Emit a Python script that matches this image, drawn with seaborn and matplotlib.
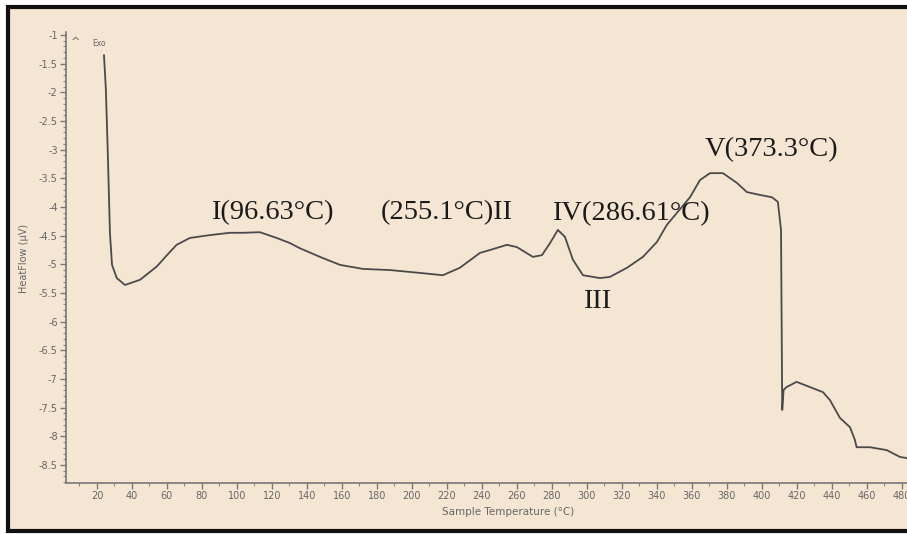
import matplotlib
matplotlib.use("Agg")
import matplotlib.pyplot as plt
import matplotlib.ticker as mticker
from matplotlib.patches import Rectangle
import seaborn as sns
import numpy as np
import pandas as pd

# ---- data ----
temperature = [24.0, 25.1, 26.3, 27.4, 28.6, 31.3, 36.0, 44.6, 54.1, 60.0, 65.5, 73.1, 84.6,
               96.0, 103.4, 113.1, 122.7, 130.3, 136.0, 147.4, 158.9, 172.0, 187.4,
               204.6, 217.7, 227.4, 238.9, 244.6, 254.3, 260.0, 269.1, 274.3, 278.9,
               283.4, 287.4, 292.0, 297.7, 307.4, 313.1, 322.9, 332.0, 340.0, 345.7,
               358.9, 364.6, 370.3, 377.7, 385.7, 391.4, 398.9, 405.7, 409.1, 410.9,
               411.6, 412.4, 414.1, 419.8, 427.4, 434.9, 438.9, 444.6, 450.3, 453.1,
               454.1, 461.7, 471.3, 478.9, 482.9]
heatflow = [-1.35, -1.96, -3.18, -4.45, -5.01, -5.24, -5.36, -5.27, -5.04, -4.84, -4.66, -4.54, -4.49,
            -4.45, -4.45, -4.44, -4.54, -4.63, -4.72, -4.87, -5.01, -5.08, -5.10,
            -5.15, -5.19, -5.06, -4.80, -4.75, -4.66, -4.70, -4.87, -4.84, -4.63,
            -4.40, -4.52, -4.92, -5.19, -5.24, -5.22, -5.06, -4.87, -4.61, -4.31,
            -3.83, -3.53, -3.41, -3.41, -3.58, -3.74, -3.79, -3.83, -3.91, -4.40,
            -7.54, -7.19, -7.14, -7.05, -7.14, -7.23, -7.37, -7.68, -7.84, -8.06,
            -8.19, -8.19, -8.24, -8.36, -8.38]

x_ticks = list(range(20, 481, 20))
y_ticks = [-1, -1.5, -2, -2.5, -3, -3.5, -4, -4.5, -5, -5.5, -6, -6.5, -7, -7.5, -8, -8.5]

labels = ["I(96.63\u00b0C)", "(255.1\u00b0C)II", "IV(286.61\u00b0C)", "III", "V(373.3\u00b0C)"]
label_x = [85.1, 182.3, 280.0, 297.7, 367.4]
label_y = [-4.10, -4.10, -4.12, -5.64, -3.0]

df = pd.DataFrame({"Temperature": temperature, "HeatFlow": heatflow})

# ---- figure ----
BG = "#F5E6D4"
sns.set_style("white")
fig = plt.figure(figsize=(9.07, 5.34), dpi=100)
fig.patch.set_facecolor("white")
fig.patches.append(Rectangle((8 / 907, 3 / 534), 1.0, 524 / 534, transform=fig.transFigure,
                             facecolor=BG, edgecolor="#111111", linewidth=3, zorder=-5))

ax = fig.add_axes([66 / 907, 1 - 483 / 534, 1 - 66 / 907, (483 - 32) / 534])
ax.set_zorder(2)
ax.patch.set_alpha(0)

sns.lineplot(data=df, x="Temperature", y="HeatFlow", ax=ax, color="#4a4a4a",
             linewidth=1.3, sort=False, estimator=None)

ax.set_xlim(2.3, 482.9)
ax.set_ylim(-8.814, -0.948)

for s in ["top", "right"]:
    ax.spines[s].set_visible(False)
for s in ["left", "bottom"]:
    ax.spines[s].set_color("#777777")
    ax.spines[s].set_linewidth(1.2)

ax.set_xticks(x_ticks)
ax.set_yticks(y_ticks)
ax.xaxis.set_minor_locator(mticker.MultipleLocator(10))
ax.yaxis.set_minor_locator(mticker.MultipleLocator(0.1))
ax.yaxis.set_major_formatter(mticker.FuncFormatter(lambda v, p: "%g" % v))
ax.tick_params(axis="both", which="major", direction="out", length=4, width=1,
               color="#777777", labelsize=7, labelcolor="#666666", pad=2)
ax.tick_params(axis="both", which="minor", direction="out", length=2, width=0.8,
               color="#888888")
ax.tick_params(axis="y", which="both", left=True)
ax.tick_params(axis="x", which="both", bottom=True)
ax.set_xlabel("")
ax.set_ylabel("")

fig.text(442 / 907, 1 - 512 / 534, "Sample Temperature (\u00b0C)", fontsize=7.5,
         color="#666666", ha="left", va="center")
fig.text(24 / 907, 1 - 258 / 534, "HeatFlow (\u00b5V)", fontsize=7, color="#666666",
         rotation=90, ha="center", va="center")
fig.text(76 / 907, 1 - 42 / 534, "^", fontsize=8, color="#666666", ha="center", va="center")
fig.text(92 / 907, 1 - 43 / 534, "Exo", fontsize=5.5, color="#666666", ha="left", va="center")

for t, x, y in zip(labels, label_x, label_y):
    ax.text(x, y, t, fontsize=20.5, family=["Liberation Serif", "DejaVu Serif"],
            color="#1a1a1a", ha="left", va="center")

fig.savefig("out.png", dpi=100, facecolor=fig.get_facecolor())
